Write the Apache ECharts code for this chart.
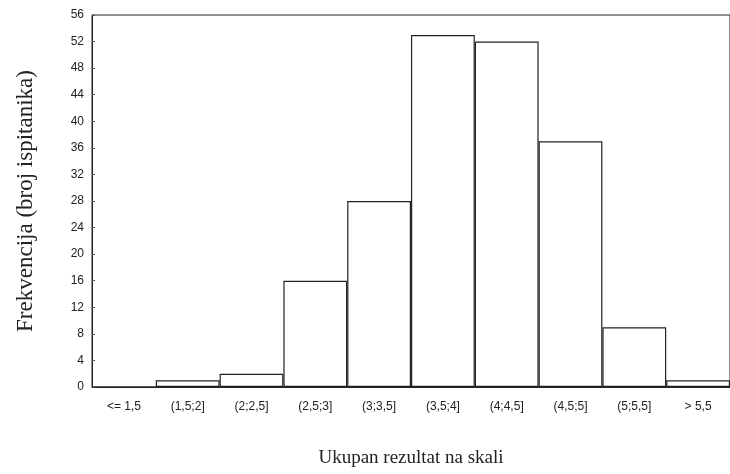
<!DOCTYPE html>
<html>
<head>
<meta charset="utf-8">
<script src="https://cdn.jsdelivr.net/npm/echarts@6/dist/echarts.min.js"></script>
<style>
  html, body { margin: 0; padding: 0; background: #fff; }
  #chart { width: 730px; height: 474px; }
</style>
</head>
<body>
<div id="chart"></div>
<script>
// razredi i frekvencije
var categories = ['<= 1,5', '(1,5;2]', '(2;2,5]', '(2,5;3]', '(3;3,5]', '(3,5;4]', '(4;4,5]', '(4,5;5]', '(5;5,5]', '> 5,5'];
var counts = [0, 1, 2, 16, 28, 53, 52, 37, 9, 1];

var chart = echarts.init(document.getElementById('chart'));
var option = {
  animation: false,
  grid: {left: 92, right: 0, top: 15, bottom: 87, show: true, borderColor: '#222', borderWidth: 1},
  xAxis: [
    {
      type: 'category',
      data: categories,
      name: 'Ukupan rezultat na skali',
      nameLocation: 'middle',
      nameGap: 62,
      nameTextStyle: {fontFamily: 'Liberation Serif', fontSize: 19, color: '#222'},
      axisLine: {lineStyle: {color: '#222'}},
      axisTick: {show: false},
      axisLabel: {fontFamily: 'Liberation Sans', fontSize: 12, color: '#222', margin: 14, interval: 0}
    },
    {
      // gornja os samo za crtice
      type: 'category',
      data: categories,
      position: 'top',
      axisLine: {show: false},
      axisTick: {inside: true, length: 3, lineStyle: {color: '#555'}},
      axisLabel: {show: false}
    }
  ],
  yAxis: {
    type: 'value',
    min: 0,
    max: 56,
    interval: 4,
    name: 'Frekvencija (broj ispitanika)',
    nameLocation: 'middle',
    nameGap: 55,
    nameTextStyle: {fontFamily: 'Liberation Serif', fontSize: 23, color: '#222'},
    axisLine: {show: true, lineStyle: {color: '#222'}},
    axisTick: {show: true, inside: true, length: 3, lineStyle: {color: '#555'}},
    axisLabel: {fontFamily: 'Liberation Sans', fontSize: 12, color: '#222', margin: 8},
    splitLine: {show: false}
  },
  series: [
    {
      type: 'bar',
      data: counts,
      barCategoryGap: 0,
      itemStyle: {color: '#fff', borderColor: '#222', borderWidth: 1.2}
    }
  ]
};
chart.setOption(option);
</script>
</body>
</html>
